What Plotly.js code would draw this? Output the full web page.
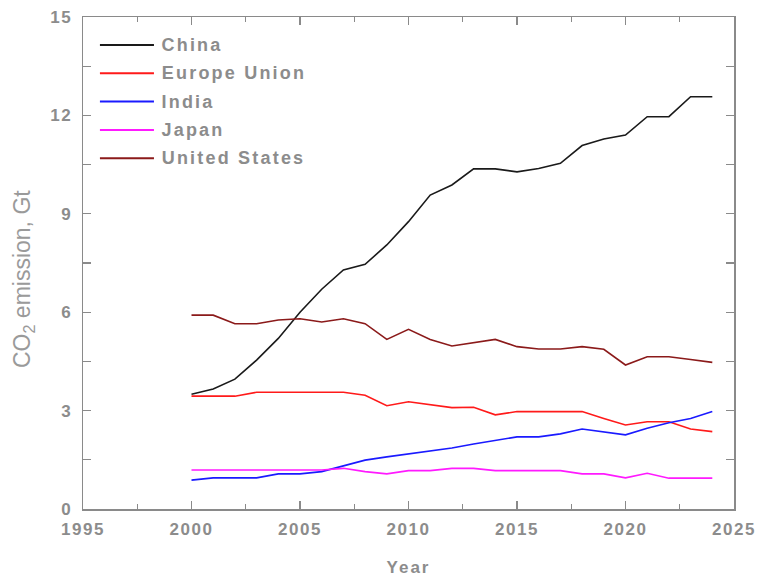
<!DOCTYPE html>
<html>
<head>
<meta charset="utf-8">
<script src="https://cdn.plot.ly/plotly-3.0.1.min.js"></script>
<style>
  html, body { margin: 0; padding: 0; background: #fff; }
  #chart { width: 759px; height: 578px; }
  #chart .xtick text, #chart .ytick text { letter-spacing: 1.5px; }
  #chart .annotation.key .annotation-text { letter-spacing: 2.2px; }
  #chart .g-xtitle text { letter-spacing: 2px; }
</style>
</head>
<body>
<div id="chart"></div>
<script>
// Annual CO2 emissions by region, gigatonnes
const years = [2000, 2001, 2002, 2003, 2004, 2005, 2006, 2007, 2008, 2009, 2010, 2011, 2012,
               2013, 2014, 2015, 2016, 2017, 2018, 2019, 2020, 2021, 2022, 2023, 2024];

const china = [3.5, 3.66, 3.96, 4.54, 5.2, 6.0, 6.7, 7.29, 7.46, 8.05, 8.76, 9.57, 9.88,
               10.37, 10.37, 10.28, 10.38, 10.54, 11.08, 11.28, 11.4, 11.96, 11.96, 12.57, 12.57];
const europeUnion = [3.44, 3.44, 3.44, 3.56, 3.56, 3.56, 3.56, 3.56, 3.47, 3.15, 3.27, 3.19, 3.09,
                     3.1, 2.87, 2.97, 2.97, 2.97, 2.97, 2.76, 2.56, 2.66, 2.66, 2.44, 2.36];
const india = [0.88, 0.95, 0.95, 0.95, 1.07, 1.07, 1.14, 1.32, 1.49, 1.59, 1.68, 1.78, 1.86,
               1.98, 2.08, 2.2, 2.2, 2.29, 2.44, 2.36, 2.26, 2.46, 2.63, 2.76, 2.97];
const japan = [1.19, 1.19, 1.19, 1.19, 1.19, 1.19, 1.19, 1.24, 1.14, 1.07, 1.17, 1.17, 1.24,
               1.24, 1.17, 1.17, 1.17, 1.17, 1.07, 1.07, 0.95, 1.09, 0.94, 0.94, 0.94];
const unitedStates = [5.91, 5.91, 5.65, 5.65, 5.76, 5.8, 5.7, 5.8, 5.65, 5.17, 5.48, 5.17, 4.97,
                      5.07, 5.17, 4.95, 4.88, 4.88, 4.95, 4.87, 4.39, 4.64, 4.64, 4.56, 4.47];

const seriesNames = ['China', 'Europe Union', 'India', 'Japan', 'United States'];
const seriesValues = [china, europeUnion, india, japan, unitedStates];
const seriesColors = ['#1a1a1a', '#ff1a1a', '#1a1aff', '#ff1aff', '#8b1a1a'];

const xTickValues = [1995, 2000, 2005, 2010, 2015, 2020, 2025];
const yTickValues = [0, 3, 6, 9, 12, 15];

const grey = '#8c8c8c';
const axisGrey = '#8a8a8a';
const keySpacing = 2.2; // same value as the letter-spacing on the key labels
const fontFamily = 'Liberation Sans, Arial, sans-serif';

const traces = seriesNames.map((name, i) => ({
  type: 'scatter',
  mode: 'lines',
  name: name,
  x: years,
  y: seriesValues[i],
  line: { color: seriesColors[i], width: 1.6 },
  showlegend: false
}));

// Hand-placed key in the upper-left corner of the plot.
// Annotation text is centred in its box, so the extra tracking is
// pushed right by half its width to keep the left edges aligned.
const keyTop = 0.943, keyStep = 0.0575;
const shapes = [], annotations = [];
seriesNames.forEach((name, i) => {
  const yy = keyTop - i * keyStep;
  shapes.push({
    type: 'line', xref: 'paper', yref: 'paper',
    x0: 0.026, x1: 0.109, y0: yy, y1: yy,
    line: { color: seriesColors[i], width: 2 }
  });
  annotations.push({
    name: 'key', xref: 'paper', yref: 'paper', x: 0.118, y: yy,
    xanchor: 'left', yanchor: 'middle', showarrow: false,
    xshift: name.length * keySpacing / 2,
    text: name,
    font: { family: fontFamily, size: 18, color: grey, weight: 'bold' }
  });
});

// Vertical axis label, set a little below the plot's middle
annotations.push({
  xref: 'paper', yref: 'paper', x: 0, y: 0.4675,
  xanchor: 'center', yanchor: 'middle', xshift: -59,
  textangle: -90, showarrow: false,
  text: 'CO<sub>2</sub> emission, Gt',
  font: { family: fontFamily, size: 23, color: '#9a9a9a' }
});

const axisCommon = {
  showline: true, linecolor: axisGrey, linewidth: 1.5, mirror: 'ticks',
  ticks: 'inside', tickcolor: axisGrey, tickwidth: 1.3,
  showgrid: false, zeroline: false,
  tickfont: { family: fontFamily, size: 17, color: grey, weight: 'bold' }
};

const layout = {
  width: 759, height: 578,
  margin: { l: 83, r: 25, t: 17, b: 69 },
  paper_bgcolor: '#fff', plot_bgcolor: '#fff',
  xaxis: Object.assign({}, axisCommon, {
    range: [1995, 2025], tickvals: xTickValues, ticklen: 8,
    ticklabelstandoff: 4,
    minor: { dtick: 2.5, tick0: 1995, ticks: 'inside', ticklen: 5, tickcolor: axisGrey, tickwidth: 1.3 },
    title: {
      text: 'Year', standoff: 23,
      font: { family: fontFamily, size: 17, color: grey, weight: 'bold' }
    }
  }),
  yaxis: Object.assign({}, axisCommon, {
    range: [0, 15], tickvals: yTickValues, ticklen: 8,
    ticklabelstandoff: 6,
    minor: { dtick: 1.5, tick0: 0, ticks: 'inside', ticklen: 8, tickcolor: axisGrey, tickwidth: 1.3 }
  }),
  shapes: shapes,
  annotations: annotations
};

Plotly.newPlot('chart', traces, layout, { displayModeBar: false, staticPlot: true }).then(gd => {
  // tag the key labels so the stylesheet can widen their tracking
  gd.querySelectorAll('.annotation').forEach((el, i) => {
    if (i < seriesNames.length) el.classList.add('key');
  });
});
</script>
</body>
</html>
